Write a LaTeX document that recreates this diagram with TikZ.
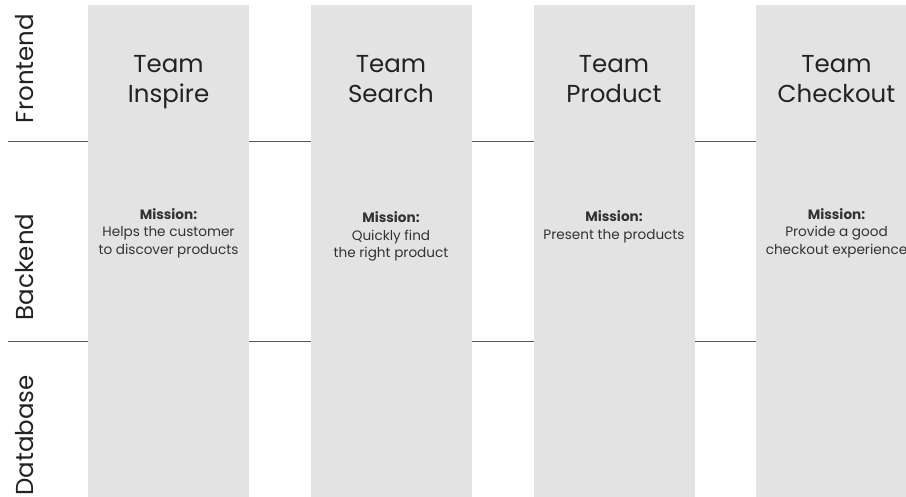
\documentclass[tikz,border=0pt]{standalone}
\usepackage{fontspec}
\setmainfont{Poppins}
\definecolor{colgray}{HTML}{E3E3E3}
\definecolor{linegray}{HTML}{555555}
\definecolor{txt}{HTML}{222222}
\definecolor{mtxt}{HTML}{333333}
\tikzset{
  lane/.style={fill=colgray, draw=none, minimum width=161pt, minimum height=492pt, anchor=north, inner sep=0pt},
  rowlabel/.style={rotate=90, anchor=base, text=txt, inner sep=0pt, font=\fontsize{24.5}{30}\selectfont},
  teamname/.style={anchor=north, align=center, text=txt, inner sep=0pt, font=\fontsize{24.5}{30}\selectfont},
  mission/.style={anchor=north, align=center, text=mtxt, inner sep=0pt, font=\fontsize{13.6}{17.7}\selectfont},
  sepline/.style={draw=linegray, line width=1pt}
}
\begin{document}
\begin{tikzpicture}[x=1pt,y=-1pt]
\useasboundingbox (0,0) rectangle (906,497);
\clip (0,0) rectangle (906,497);
% separators
\coordinate (s1a) at (8,142);
\coordinate (s1b) at (906,142);
\coordinate (s2a) at (8,341.5);
\coordinate (s2b) at (906,341.5);
\draw[sepline] (s1a) -- (s1b);
\draw[sepline] (s2a) -- (s2b);
% lanes
\node[lane] (l1) at (168.5,5) {};
\node[lane] (l2) at (391,5) {};
\node[lane] (l3) at (614,5) {};
\node[lane] (l4) at (836.5,5) {};
% row labels
\node[rowlabel] (fe) at (33,68.5) {Frontend};
\node[rowlabel] (be) at (33,267) {Backend};
\node[rowlabel] (db) at (33,435.5) {Database};
% team names
\node[teamname] (t1) at (168.5,55) {Team\\Inspire};
\node[teamname] (t2) at (391,55) {Team\\Search};
\node[teamname] (t3) at (614,55) {Team\\Product};
\node[teamname] (t4) at (836.5,55) {Team\\Checkout};
% missions
\node[mission] (m1) at (168.5,208) {\textbf{Mission:}\\Helps the customer\\to discover products};
\node[mission] (m2) at (391,211.5) {\textbf{Mission:}\\Quickly find\\the right product};
\node[mission] (m3) at (614,210.5) {\textbf{Mission:}\\Present the products};
\node[mission] (m4) at (836.5,208) {\textbf{Mission:}\\Provide a good\\checkout experience};
\end{tikzpicture}
\end{document}
